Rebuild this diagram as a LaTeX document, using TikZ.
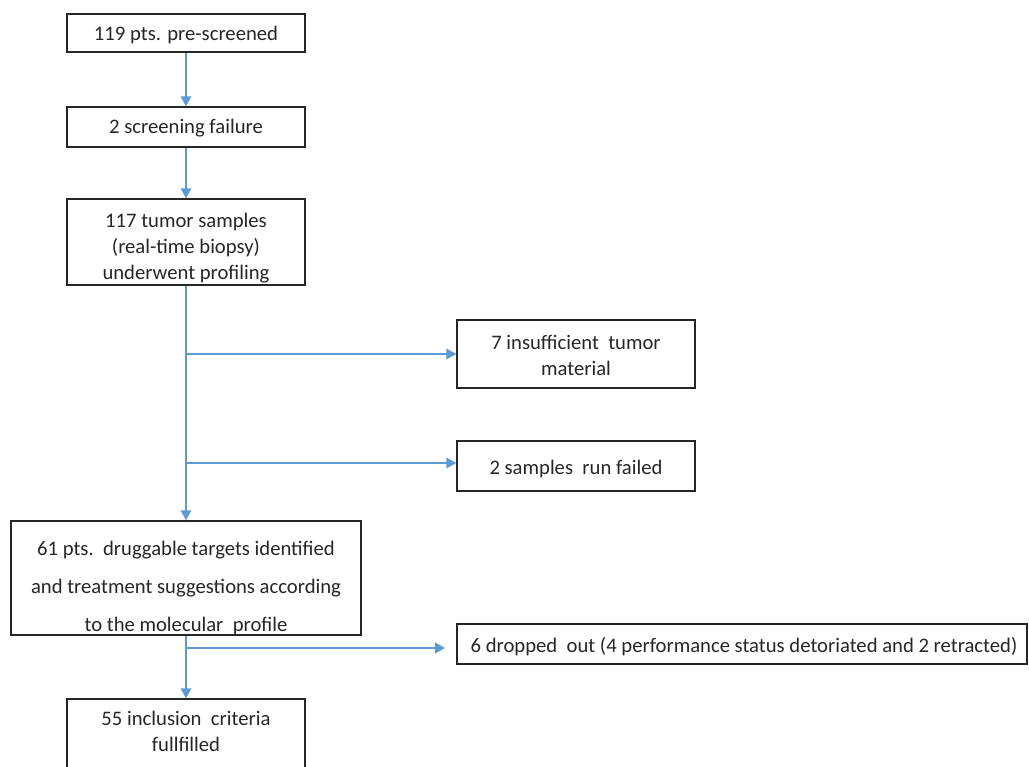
\documentclass[tikz,border=0pt]{standalone}
\usepackage{fontspec}
\setmainfont{Carlito}
\usetikzlibrary{arrows.meta}
\definecolor{arrowblue}{HTML}{5B9BD5}
\definecolor{boxline}{HTML}{262626}
\begin{document}
\begin{tikzpicture}[x=0.75pt,y=-0.75pt,
  box/.style={draw=boxline,line width=1.1pt,rectangle,inner sep=0pt},
  txt/.style={inner sep=0pt,align=center,font=\fontsize{15.5}{19.5}\selectfont,text=black!85},
  conn/.style={draw=arrowblue,line width=1.1pt,-{Triangle[length=7.5pt,width=8pt]}}]
\useasboundingbox (0,0) rectangle (1029,767);
\clip (0,0) rectangle (1029,767);
% boxes
\node[box,minimum width=178.5pt,minimum height=28.5pt] (b1) at (186,33) {};
\node[box,minimum width=178.5pt,minimum height=30pt] (b2) at (186,127) {};
\node[box,minimum width=178.5pt,minimum height=64.5pt] (b3) at (186,242) {};
\node[box,minimum width=178.5pt,minimum height=51pt] (b4) at (576,354) {};
\node[box,minimum width=178.5pt,minimum height=37.5pt] (b5) at (576,466) {};
\node[box,minimum width=262.5pt,minimum height=85.5pt] (b6) at (186,578) {};
\node[box,minimum width=427.5pt,minimum height=30pt] (b7) at (742,644) {};
\node[box,minimum width=178.5pt,minimum height=54pt] (b8) at (186,735) {};
% texts
\node[txt] (t1) at (186,35) {119 pts. pre-screened};
\node[txt] (t2) at (186,128) {2 screening failure};
\node[txt] (t3) at (186,248) {117 tumor samples\\(real-time biopsy)\\underwent profiling};
\node[txt] (t4) at (576,355) {7 insufficient\ \ tumor\\material};
\node[txt] (t5) at (576,469) {2 samples\ \ run failed};
\node[txt,font=\fontsize{15.5}{28.5}\selectfont] (t6) at (186,588) {61 pts.\ \ druggable targets identified\\and treatment suggestions according\\to the molecular\ \ profile};
\node[txt] (t7) at (744,647) {6 dropped\ \ out (4 performance status detoriated and 2 retracted)};
\node[txt] (t8) at (186,731) {55 inclusion\ \ criteria\\fullfilled};
% connectors
\coordinate (j1) at (186,354);
\coordinate (j2) at (186,463);
\coordinate (j3) at (186,648);
\coordinate (e3) at (445,648);
\draw[conn] (b1.south) -- (b2.north);
\draw[conn] (b2.south) -- (b3.north);
\draw[conn] (b3.south) -- (b6.north);
\draw[conn] (j1) -- (j1 -| b4.west);
\draw[conn] (j2) -- (j2 -| b5.west);
\draw[conn] (b6.south) -- (b8.north);
\draw[conn] (j3) -- (e3);
\end{tikzpicture}
\end{document}
